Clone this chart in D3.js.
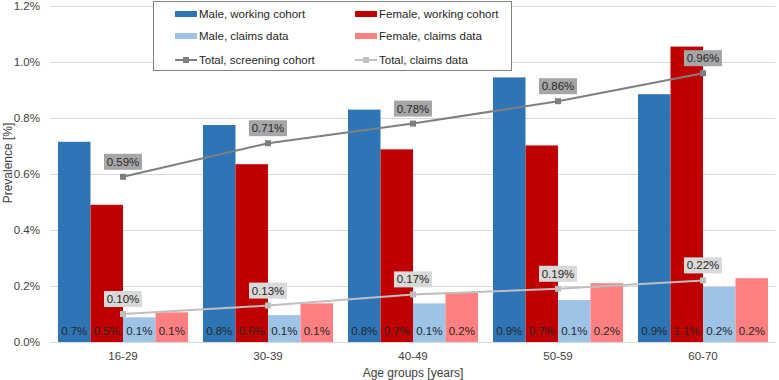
<!DOCTYPE html>
<html>
<head>
<meta charset="utf-8">
<script src="https://cdn.jsdelivr.net/npm/d3@7"></script>
<style>
  body { margin: 0; background: #fff; }
  text { font-family: "Liberation Sans", Arial, sans-serif; }
</style>
</head>
<body>
<div id="chart"></div>
<script>
// prevalence by age group, bars + two total lines

const ageGroups = ["16-29", "30-39", "40-49", "50-59", "60-70"];
const maleWorking = [0.715, 0.775, 0.83, 0.945, 0.885];
const femaleWorking = [0.49, 0.635, 0.688, 0.702, 1.055];
const maleClaims = [0.088, 0.096, 0.138, 0.15, 0.197];
const femaleClaims = [0.106, 0.138, 0.178, 0.21, 0.228];
const totalScreening = [0.59, 0.71, 0.78, 0.86, 0.96];
const totalClaims = [0.10, 0.13, 0.17, 0.19, 0.22];
const yTicks = [0, 0.2, 0.4, 0.6, 0.8, 1.0, 1.2];

const width = 779, height = 380;
const plotLeft = 50.5, plotRight = 775.5, plotTop = 6, plotBottom = 342;

const barSeries = [
  {name: "Male, working cohort", values: maleWorking, color: "#2e75b6"},
  {name: "Female, working cohort", values: femaleWorking, color: "#c00000"},
  {name: "Male, claims data", values: maleClaims, color: "#9dc3e6"},
  {name: "Female, claims data", values: femaleClaims, color: "#ff8080"}
];
const lineSeries = [
  {name: "Total, screening cohort", values: totalScreening, color: "#7f7f7f", box: "#a6a6a6"},
  {name: "Total, claims data", values: totalClaims, color: "#bfbfbf", box: "#d9d9d9"}
];

const svg = d3.select("#chart").append("svg")
  .attr("width", width)
  .attr("height", height);

const x = d3.scaleBand().domain(ageGroups).range([plotLeft, plotRight])
  .paddingInner(0.1034).paddingOuter(0.0517);
const xs = d3.scaleBand().domain(barSeries.map(d => d.name)).range([0, x.bandwidth()]);
const y = d3.scaleLinear().domain([0, 1.2]).range([plotBottom, plotTop]);

// gridlines
svg.append("g")
  .selectAll("line")
  .data(yTicks)
  .join("line")
  .attr("x1", plotLeft).attr("x2", plotRight)
  .attr("y1", d => Math.round(y(d)) + 0.5)
  .attr("y2", d => Math.round(y(d)) + 0.5)
  .attr("stroke", "#d9d9d9")
  .attr("stroke-width", 1);

// y tick labels
svg.append("g")
  .attr("font-size", 11.5)
  .attr("fill", "#404040")
  .attr("text-anchor", "end")
  .selectAll("text")
  .data(yTicks)
  .join("text")
  .attr("x", 40)
  .attr("y", d => y(d) + 4)
  .text(d => d.toFixed(1) + "%");

// bars
const groups = svg.append("g")
  .selectAll("g")
  .data(barSeries)
  .join("g")
  .attr("fill", d => d.color);

groups.selectAll("rect")
  .data(s => s.values.map((v, i) => ({s, v, age: ageGroups[i]})))
  .join("rect")
  .attr("x", d => x(d.age) + xs(d.s.name))
  .attr("width", xs.bandwidth())
  .attr("y", d => y(d.v))
  .attr("height", d => y(0) - y(d.v));

// value labels inside bars
svg.append("g")
  .attr("font-size", 11.5)
  .attr("fill", "#262626")
  .attr("text-anchor", "middle")
  .selectAll("text")
  .data(barSeries.flatMap(s => s.values.map((v, i) => ({s, v, age: ageGroups[i]}))))
  .join("text")
  .attr("x", d => x(d.age) + xs(d.s.name) + xs.bandwidth() / 2)
  .attr("y", plotBottom - 7)
  .text(d => d.v.toFixed(1) + "%");

// lines
const cx = age => x(age) + x.bandwidth() / 2;
const line = d3.line().x((d, i) => cx(ageGroups[i])).y(d => y(d));

lineSeries.forEach(s => {
  svg.append("path")
    .datum(s.values)
    .attr("fill", "none")
    .attr("stroke", s.color)
    .attr("stroke-width", 2)
    .attr("d", line);

  svg.append("g")
    .selectAll("rect")
    .data(s.values)
    .join("rect")
    .attr("x", (d, i) => cx(ageGroups[i]) - 3)
    .attr("y", d => y(d) - 3)
    .attr("width", 6).attr("height", 6)
    .attr("fill", s.color);

  // label boxes above markers
  const lab = svg.append("g")
    .selectAll("g")
    .data(s.values)
    .join("g")
    .attr("transform", (d, i) => `translate(${cx(ageGroups[i])},${y(d) - 7})`);
  lab.append("rect")
    .attr("x", -19).attr("y", -16)
    .attr("width", 38).attr("height", 16)
    .attr("fill", s.box);
  lab.append("text")
    .attr("font-size", 11.5)
    .attr("fill", "#262626")
    .attr("text-anchor", "middle")
    .attr("y", -4)
    .text(d => d.toFixed(2) + "%");
});

// x axis baseline
svg.append("line")
  .attr("x1", plotLeft).attr("x2", plotRight)
  .attr("y1", plotBottom + 0.5).attr("y2", plotBottom + 0.5)
  .attr("stroke", "#d9d9d9");

// x tick labels
svg.append("g")
  .attr("font-size", 11.5)
  .attr("fill", "#404040")
  .attr("text-anchor", "middle")
  .selectAll("text")
  .data(ageGroups)
  .join("text")
  .attr("x", d => cx(d))
  .attr("y", 360)
  .text(d => d);

// axis titles
svg.append("text")
  .attr("x", (plotLeft + plotRight) / 2)
  .attr("y", 377)
  .attr("text-anchor", "middle")
  .attr("font-size", 12)
  .attr("fill", "#404040")
  .text("Age groups [years]");

svg.append("text")
  .attr("transform", "translate(12,163) rotate(-90)")
  .attr("text-anchor", "middle")
  .attr("font-size", 12)
  .attr("fill", "#404040")
  .text("Prevalence [%]");

// legend
const legend = svg.append("g");
legend.append("rect")
  .attr("x", 153.5).attr("y", 1.5)
  .attr("width", 358).attr("height", 69)
  .attr("fill", "#fff")
  .attr("stroke", "#808080");

const legItems = [
  {item: barSeries[0], col: 0, row: 0, type: "bar"},
  {item: barSeries[1], col: 1, row: 0, type: "bar"},
  {item: barSeries[2], col: 0, row: 1, type: "bar"},
  {item: barSeries[3], col: 1, row: 1, type: "bar"},
  {item: lineSeries[0], col: 0, row: 2, type: "line"},
  {item: lineSeries[1], col: 1, row: 2, type: "line"}
];
const rowY = [14, 36, 60];
const colX = [175, 355];

const li = legend.selectAll("g.item")
  .data(legItems)
  .join("g")
  .attr("class", "item")
  .attr("transform", d => `translate(${colX[d.col]},${rowY[d.row]})`);

li.filter(d => d.type === "bar").append("rect")
  .attr("x", 0).attr("y", -3)
  .attr("width", 22).attr("height", 6)
  .attr("fill", d => d.item.color);

li.filter(d => d.type === "line").append("line")
  .attr("x1", 0).attr("x2", 22)
  .attr("stroke", d => d.item.color)
  .attr("stroke-width", 2);
li.filter(d => d.type === "line").append("rect")
  .attr("x", 8).attr("y", -3)
  .attr("width", 6).attr("height", 6)
  .attr("fill", d => d.item.color);

li.append("text")
  .attr("x", 24)
  .attr("y", 4)
  .attr("font-size", 11.5)
  .attr("fill", "#262626")
  .text(d => d.item.name);
</script>
</body>
</html>
